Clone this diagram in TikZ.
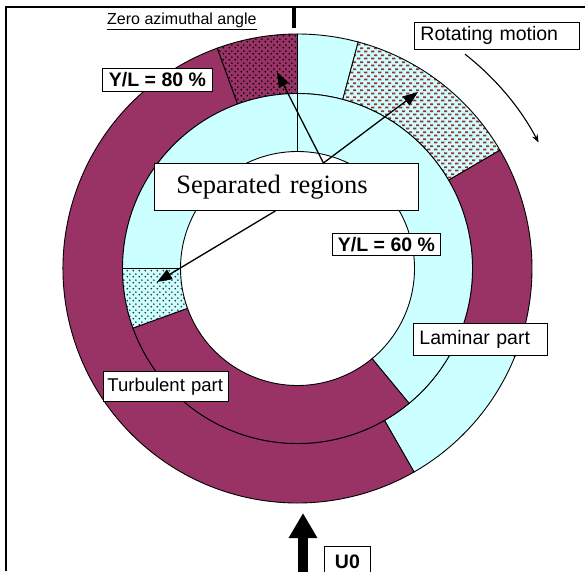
\documentclass[tikz,border=0pt]{standalone}
\usepackage{fontspec}
\setmainfont{Liberation Sans}
\newfontfamily\timesfont{Liberation Serif}
\usetikzlibrary{arrows.meta, calc, patterns.meta}
\definecolor{cmag}{HTML}{993366}
\definecolor{ccyan}{HTML}{CCFFFF}
\definecolor{cdash}{HTML}{9E2F2F}
\tikzdeclarepattern{
  name=dotgrid, type=uncolored,
  bounding box={(0pt,0pt) and (6pt,6pt)},
  tile size={(6pt,6pt)},
  code={
    \fill (1.5pt,1.5pt) circle[radius=1.05pt];
    \fill (4.5pt,4.5pt) circle[radius=1.05pt];
  }
}
\tikzdeclarepattern{
  name=dashgrid, type=uncolored,
  bounding box={(0pt,0pt) and (7pt,7pt)},
  tile size={(7pt,7pt)},
  code={
    \fill (0pt,0.8pt) rectangle (3.8pt,2.8pt);
    \fill (3.5pt,4.3pt) rectangle (7pt,6.3pt);
  }
}
\tikzset{
  seg/.style={draw=black, line width=0.9pt},
  lam/.style={seg, fill=ccyan},
  tur/.style={seg, fill=cmag},
  sepmag/.style={seg, preaction={fill=cmag}, pattern=dotgrid, pattern color=black},
  sepcyan/.style={seg, preaction={fill=ccyan}, pattern=dotgrid, pattern color=black!80},
  sepdash/.style={seg, preaction={fill=ccyan}, pattern=dashgrid, pattern color=cdash},
  tag/.style={draw, line width=0.9pt, fill=white, anchor=north west, align=left, inner xsep=6pt, inner ysep=0pt, font=\fontsize{19.5}{21}\selectfont},
  val/.style={draw, line width=0.9pt, fill=white, anchor=north west, inner sep=0pt, font=\bfseries\fontsize{19.5}{21}\selectfont},
  pointer/.style={-{Triangle[length=15pt,width=11pt]}, line width=1.3pt},
  turn/.style={-{Stealth[length=8pt,width=6pt]}, line width=1.1pt},
  flow/.style={-{Triangle[length=25pt,width=27pt]}, line width=10pt},
}
% part of a ring, azimuth counted clockwise from the top
\newcommand{\ringpart}[4]{($(ctr)+(#1-90:#3)$) arc[start angle=#1-90, end angle=#2-90, radius=#3] -- ($(ctr)+(#2-90:#4)$) arc[start angle=#2-90, end angle=#1-90, radius=#4] -- cycle}

\begin{document}
\begin{tikzpicture}[x=1pt, y=-1pt]
  \useasboundingbox (0,0) rectangle (585,571);
  \draw[line width=2pt] (6,571) -- (6,7) -- (585,7);
  \coordinate (ctr) at (297.5,268.5);
  % outer ring: Y/L = 80 %
  \path[lam] \ringpart{0}{15}{175}{234.5};
  \path[sepdash] \ringpart{15}{59.7}{175}{234.5};
  \path[tur] \ringpart{59.7}{112}{175}{234.5};
  \path[lam] \ringpart{112}{150.2}{175}{234.5};
  \path[tur] \ringpart{150.2}{340}{175}{234.5};
  \path[sepmag] \ringpart{340}{360}{175}{234.5};
  % inner ring: Y/L = 60 %
  \path[lam] \ringpart{0}{140.4}{117}{175};
  \path[tur] \ringpart{140.4}{250.1}{117}{175};
  \path[sepcyan] \ringpart{250.1}{270}{117}{175};
  \path[lam] \ringpart{270}{360}{117}{175};
  % zero azimuthal angle
  \draw[line width=3.5pt] (294,8) -- (294,28);
  \node[anchor=base west, inner sep=0pt, font=\fontsize{16}{18}\selectfont] (zero) at (107,24) {\underline{Zero azimuthal angle}};
  % labels
  \node[tag, text width=153pt, minimum height=27pt] (rot) at (414,22) {Rotating motion};
  \node[tag, text width=122pt, minimum height=32pt] (laminar) at (413,323) {Laminar part};
  \node[tag, inner xsep=4pt, text width=117pt, minimum height=30pt, font=\fontsize{18.5}{20}\selectfont] (turb) at (103,371) {Turbulent part};
  \node[val, minimum width=110pt, minimum height=23pt] (yl80) at (102,68) {Y/L = 80 \%};
  \node[val, minimum width=108pt, minimum height=22pt] (yl60) at (332,233) {Y/L = 60 \%};
  \node[val, minimum width=46pt, minimum height=30pt] (u0) at (324,546) {U0};
  \node[tag, font=\timesfont\fontsize{26.5}{28}\selectfont, inner xsep=22pt, text width=220pt, minimum height=47pt] (sep) at (154,163) {Separated regions};
  % arrows to the separated regions
  \coordinate (tipA) at (277,72);
  \coordinate (tipB) at (418,92);
  \coordinate (tipC) at (157,282);
  \draw[pointer] ([xshift=37pt]sep.north) -- (tipA);
  \draw[pointer] ([xshift=37pt]sep.north) -- (tipB);
  \draw[pointer] ([xshift=-11pt]sep.south) -- (tipC);
  % rotating motion
  \coordinate (rotA) at ($(ctr)+(38-90:272)$);
  \draw[turn] (rotA) arc[start angle=-52, end angle=-27.6, radius=272];
  % free stream
  \coordinate (u0foot) at (303,575);
  \coordinate (u0tip) at (303,513);
  \draw[flow] (u0foot) -- (u0tip);
\end{tikzpicture}
\end{document}
